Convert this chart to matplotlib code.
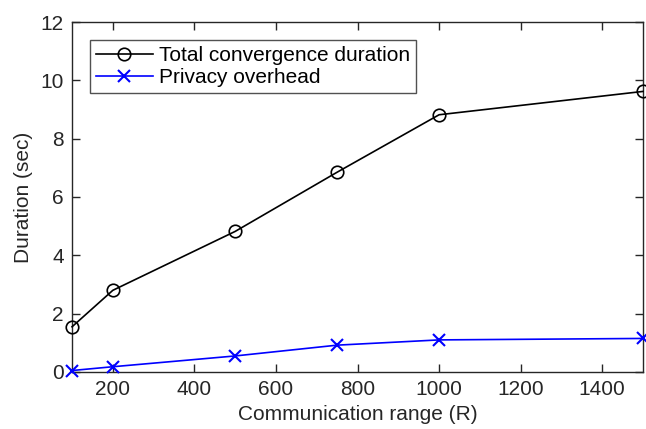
import matplotlib
matplotlib.use("Agg")
import matplotlib.pyplot as plt

# data
comm_range = [100, 200, 500, 750, 1000, 1500]
total_duration = [1.55, 2.80, 4.82, 6.85, 8.82, 9.62]
privacy_overhead = [0.05, 0.18, 0.55, 0.92, 1.10, 1.15]

plt.rcParams['font.family'] = ['Liberation Sans', 'DejaVu Sans']

fig = plt.figure(figsize=(6.46, 4.29), dpi=100)
ax = fig.add_axes([0.1115, 0.1329, 0.9954 - 0.1115, 0.9487 - 0.1329])

ax.plot(comm_range, total_duration, '-o', color='black', lw=1.2,
        markersize=9, markerfacecolor='none', markeredgewidth=1.2,
        label='Total convergence duration', clip_on=False, zorder=3)
ax.plot(comm_range, privacy_overhead, '-x', color='blue', lw=1.2,
        markersize=9, markeredgewidth=1.5,
        label='Privacy overhead', clip_on=False, zorder=3)

ax.set_xlim(100, 1500)
ax.set_ylim(0, 12)
ax.set_xticks(range(200, 1500, 200))
ax.set_yticks(range(0, 13, 2))

dark = '#262626'
for s in ax.spines.values():
    s.set_color(dark)
    s.set_linewidth(1.0)
ax.tick_params(direction='in', top=True, right=True, length=6, width=1.0,
               labelsize=15, colors=dark, pad=6)

ax.set_xlabel('Communication range (R)', fontsize=15, color=dark, labelpad=4)
ax.set_ylabel('Duration (sec)', fontsize=15, color=dark, labelpad=5)

leg = ax.legend(loc='upper left', bbox_to_anchor=(0.0315, 0.949), fontsize=15,
                frameon=True, fancybox=False, edgecolor=dark,
                borderpad=0.3, labelspacing=0.15, handlelength=2.7,
                handletextpad=0.3, borderaxespad=0)
leg.get_frame().set_linewidth(1.0)

fig.savefig('out.png', dpi=100)
